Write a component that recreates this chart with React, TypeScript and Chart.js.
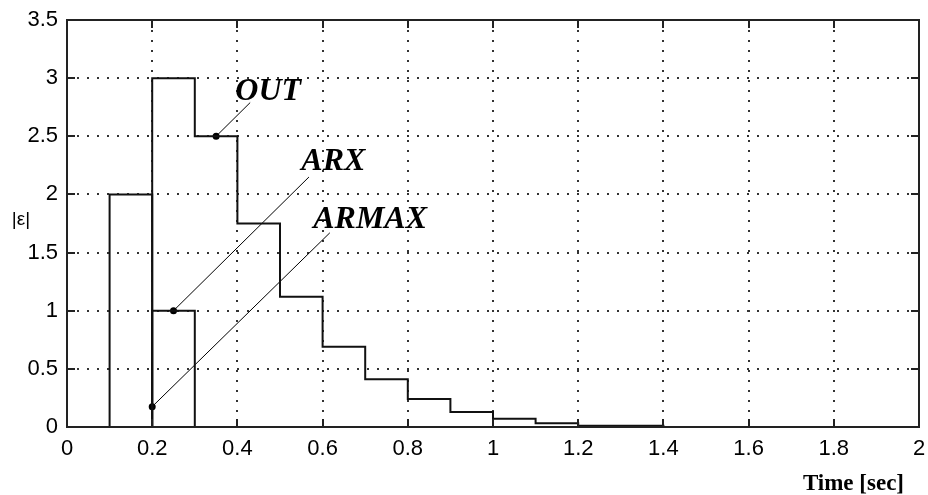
import React, { useEffect, useRef } from "react";
import { Chart, registerables } from "chart.js";

Chart.register(...registerables);

// ---- data ----
const xTickValues = [0, 0.2, 0.4, 0.6, 0.8, 1, 1.2, 1.4, 1.6, 1.8, 2];
const xTickLabels = ["0", "0.2", "0.4", "0.6", "0.8", "1", "1.2", "1.4", "1.6", "1.8", "2"];
const yTickValues = [0, 0.5, 1, 1.5, 2, 2.5, 3, 3.5];
const yTickLabels = ["0", "0.5", "1", "1.5", "2", "2.5", "3", "3.5"];

// step series: each value holds from its start time to the next start time
const outStarts = [0.2, 0.3, 0.4, 0.5, 0.6, 0.7, 0.8, 0.9, 1.0, 1.1, 1.2, 1.3];
const outValues = [3, 2.5, 1.75, 1.12, 0.69, 0.41, 0.24, 0.13, 0.07, 0.032, 0.01, 0.01];
const outEnd = 1.4;

const arxStarts = [0.2];
const arxValues = [1];
const arxEnd = 0.3;

const armaxStarts = [0.1];
const armaxValues = [2];
const armaxEnd = 0.2;

// annotation labels: [marker x, marker y], [line end x, line end y], [text x, text y]
const annotNames = ["OUT", "ARX", "ARMAX"];
const annotMarkers = [
  [0.35, 2.5],
  [0.25, 1.0],
  [0.2, 0.175],
];
const annotEnds = [
  [0.43, 2.79],
  [0.568, 2.15],
  [0.617, 1.67],
];
const annotTextPos = [
  [0.395, 2.81],
  [0.55, 2.21],
  [0.578, 1.71],
];

const xTitle = "Time [sec]";
const yTitle = "|ε|";

function stepData(starts: number[], values: number[], end: number) {
  const pts: { x: number; y: number }[] = [{ x: starts[0], y: 0 }];
  starts.forEach((s, i) => pts.push({ x: s, y: values[i] }));
  pts.push({ x: end, y: 0 });
  return pts;
}

const INK = "#111";

const matlabPlugin = {
  id: "matlabAxes",
  beforeDatasetsDraw(chart: any) {
    const { ctx, chartArea, scales } = chart;
    const { left, right, top, bottom } = chartArea;
    ctx.save();
    ctx.strokeStyle = "#333";
    ctx.lineWidth = 2;
    ctx.setLineDash([2, 8]);
    xTickValues.slice(1, -1).forEach((v) => {
      const px = Math.round(scales.x.getPixelForValue(v));
      ctx.beginPath();
      ctx.moveTo(px, top);
      ctx.lineTo(px, bottom);
      ctx.stroke();
    });
    yTickValues.slice(1, -1).forEach((v) => {
      const py = Math.round(scales.y.getPixelForValue(v));
      ctx.beginPath();
      ctx.moveTo(left, py);
      ctx.lineTo(right, py);
      ctx.stroke();
    });
    ctx.restore();
  },
  afterDatasetsDraw(chart: any) {
    const { ctx, chartArea, scales } = chart;
    const { left, right, top, bottom } = chartArea;
    ctx.save();
    ctx.strokeStyle = "#222";
    ctx.lineWidth = 2;
    ctx.setLineDash([]);
    ctx.strokeRect(left, top, right - left, bottom - top);
    const tl = 8;
    ctx.beginPath();
    xTickValues.forEach((v) => {
      const px = Math.round(scales.x.getPixelForValue(v));
      ctx.moveTo(px, bottom);
      ctx.lineTo(px, bottom - tl);
      ctx.moveTo(px, top);
      ctx.lineTo(px, top + tl);
    });
    yTickValues.forEach((v) => {
      const py = Math.round(scales.y.getPixelForValue(v));
      ctx.moveTo(left, py);
      ctx.lineTo(left + tl, py);
      ctx.moveTo(right, py);
      ctx.lineTo(right - tl, py);
    });
    ctx.stroke();

    // annotation texts
    ctx.fillStyle = "#000";
    ctx.font = 'bold italic 32px "Liberation Serif"';
    ctx.textAlign = "left";
    ctx.textBaseline = "alphabetic";
    annotNames.forEach((name, i) => {
      const [tx, ty] = annotTextPos[i];
      ctx.fillText(name, scales.x.getPixelForValue(tx), scales.y.getPixelForValue(ty));
    });

    // axis titles
    ctx.font = 'bold 23px "Liberation Serif"';
    ctx.textAlign = "right";
    ctx.fillText(xTitle, right - 15, bottom + 63);
    ctx.font = '19px "Liberation Sans"';
    ctx.textAlign = "center";
    ctx.fillText(yTitle, 21, 225);
    ctx.restore();
  },
};

export default function App() {
  const canvasRef = useRef<HTMLCanvasElement | null>(null);

  useEffect(() => {
    if (!canvasRef.current) return;
    const stepStyle = {
      showLine: true,
      stepped: "before" as const,
      borderColor: INK,
      borderWidth: 2,
      pointRadius: 0,
      fill: false,
    };
    const leaderSets = annotNames.map((name, i) => ({
      label: name + " leader",
      data: [
        { x: annotMarkers[i][0], y: annotMarkers[i][1] },
        { x: annotEnds[i][0], y: annotEnds[i][1] },
      ],
      showLine: true,
      borderColor: "#000",
      borderWidth: 1,
      pointRadius: [3.5, 0],
      pointBackgroundColor: "#000",
      pointBorderColor: "#000",
      pointBorderWidth: 0,
      fill: false,
    }));
    const chart = new Chart(canvasRef.current, {
      type: "scatter",
      data: {
        datasets: [
          { label: "ARMAX", data: stepData(armaxStarts, armaxValues, armaxEnd), ...stepStyle },
          { label: "ARX", data: stepData(arxStarts, arxValues, arxEnd), ...stepStyle },
          { label: "OUT", data: stepData(outStarts, outValues, outEnd), ...stepStyle },
          ...leaderSets,
        ] as any,
      },
      options: {
        animation: false,
        responsive: false,
        devicePixelRatio: 1,
        layout: { padding: { top: 20, right: 9, left: 0, bottom: 0 } },
        plugins: {
          legend: { display: false },
          tooltip: { enabled: false },
        },
        events: [],
        scales: {
          x: {
            type: "linear",
            min: 0,
            max: 2,
            grid: { display: false, drawTicks: false },
            border: { display: false },
            ticks: {
              stepSize: 0.2,
              autoSkip: false,
              maxRotation: 0,
              padding: 9,
              color: "#000",
              font: { family: "Liberation Sans", size: 22 },
              callback: (_v: any, i: number) => xTickLabels[i],
            },
            afterFit: (s: any) => {
              s.height = 68;
              s.paddingRight = 0;
              s.paddingLeft = 0;
            },
          },
          y: {
            type: "linear",
            min: 0,
            max: 3.5,
            grid: { display: false, drawTicks: false },
            border: { display: false },
            ticks: {
              stepSize: 0.5,
              autoSkip: false,
              padding: 9,
              color: "#000",
              font: { family: "Liberation Sans", size: 22 },
              callback: (_v: any, i: number) => yTickLabels[i],
            },
            afterFit: (s: any) => {
              s.width = 67;
              s.paddingTop = 0;
              s.paddingBottom = 0;
            },
          },
        },
      } as any,
      plugins: [matlabPlugin],
    });
    return () => chart.destroy();
  }, []);

  return (
    <div style={{ position: "fixed", left: 0, top: 0, width: 928, height: 495, background: "#fff" }}>
      <canvas ref={canvasRef} width={928} height={495} />
    </div>
  );
}
